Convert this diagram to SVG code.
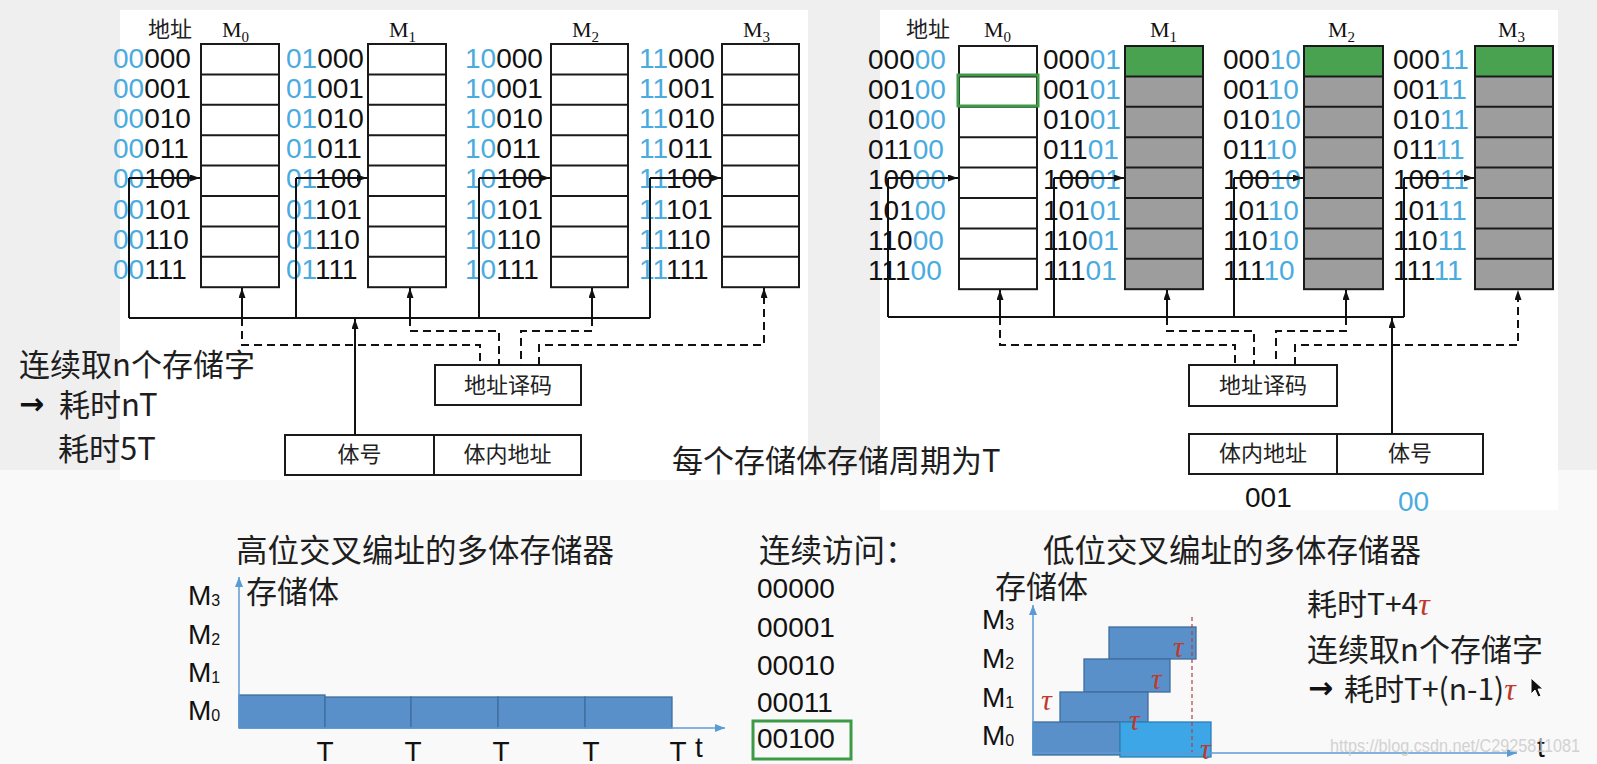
<svg xmlns="http://www.w3.org/2000/svg" width="1597" height="764" viewBox="0 0 1597 764">
<style>
.cell{fill:#fff;stroke:#1a1a1a;stroke-width:2}
.gray{fill:#9d9d9d;stroke:none}
.grn{fill:#48a24f;stroke:none}
.ol{fill:none;stroke:#1a1a1a;stroke-width:2}
.addr{font-family:"Liberation Sans",Arial,sans-serif;font-size:28px;fill:#111}
.hdr{font-family:"Noto Sans CJK SC",sans-serif;font-size:22px;fill:#222}
.ml{font-family:"Liberation Serif",serif;font-size:22px;fill:#111}
.sub{font-size:15px}
.cjk{font-family:"Noto Sans CJK SC",sans-serif;font-size:31px;fill:#1e1e1e}
.box{fill:#fff;stroke:#1a1a1a;stroke-width:2}
.bt{font-family:"Noto Sans CJK SC",sans-serif;font-size:22px;fill:#222;text-anchor:middle}
.w{fill:none;stroke:#111;stroke-width:2}
.d{fill:none;stroke:#111;stroke-width:2;stroke-dasharray:8 5}
.num{font-family:"Liberation Sans",Arial,sans-serif;font-size:28px;fill:#111}
.ax{fill:none;stroke:#5b9bd5;stroke-width:1.5}
.bar{fill:#5a90c9;stroke:#3f6d9e;stroke-width:1.3}
.lbar{fill:#3ca6e6;stroke:#2f7fb5;stroke-width:1.3}
.mk{font-family:"Liberation Sans",Arial,sans-serif;font-size:28px;fill:#111}
.ms{font-size:16px}
.tau{font-family:"Liberation Serif",serif;font-style:italic;font-size:30px;fill:#c0392b}
.arr{font-family:"DejaVu Sans",sans-serif;font-weight:bold;font-size:30px;fill:#111}
.b{fill:#4aabdf}
</style>
<defs>
<marker id="ah" viewBox="0 0 10 7" refX="10" refY="3.5" markerWidth="10" markerHeight="7" markerUnits="userSpaceOnUse" orient="auto"><path d="M0,0 L10,3.5 L0,7 z" fill="#111"/></marker>
<marker id="ahb" viewBox="0 0 10 8" refX="10" refY="4" markerWidth="10" markerHeight="8" markerUnits="userSpaceOnUse" orient="auto"><path d="M0,0 L10,4 L0,8 z" fill="#5b9bd5"/></marker>
</defs>

<!-- background -->
<rect width="1597" height="764" fill="#f9f9f9"/>
<rect x="0" y="0" width="1597" height="470" fill="#efefef"/>
<rect x="120" y="10" width="688" height="470" fill="#fff"/>
<rect x="880" y="10" width="678" height="500" fill="#fff"/>

<!-- ===== Left (high-order interleave) ===== -->
<text class="hdr" x="148" y="37">地址</text>

<g id="L-M0">
<text class="ml" x="222" y="37">M<tspan class="sub" dy="5">0</tspan></text>
<rect class="cell" x="201" y="44" width="78" height="243.2"/>
<path class="ol" d="M201 74.4h78M201 104.8h78M201 135.2h78M201 165.6h78M201 196h78M201 226.4h78M201 256.8h78"/>
<text class="addr" x="113" y="67.5"><tspan class="b">00</tspan>000</text>
<text class="addr" x="113" y="97.7"><tspan class="b">00</tspan>001</text>
<text class="addr" x="113" y="127.9"><tspan class="b">00</tspan>010</text>
<text class="addr" x="113" y="158.1"><tspan class="b">00</tspan>011</text>
<text class="addr" x="113" y="188.3"><tspan class="b">00</tspan>100</text>
<text class="addr" x="113" y="218.5"><tspan class="b">00</tspan>101</text>
<text class="addr" x="113" y="248.7"><tspan class="b">00</tspan>110</text>
<text class="addr" x="113" y="278.9"><tspan class="b">00</tspan>111</text>
</g>

<g id="L-M1">
<text class="ml" x="389" y="37">M<tspan class="sub" dy="5">1</tspan></text>
<rect class="cell" x="368" y="44" width="78" height="243.2"/>
<path class="ol" d="M368 74.4h78M368 104.8h78M368 135.2h78M368 165.6h78M368 196h78M368 226.4h78M368 256.8h78"/>
<text class="addr" x="286" y="67.5"><tspan class="b">01</tspan>000</text>
<text class="addr" x="286" y="97.7"><tspan class="b">01</tspan>001</text>
<text class="addr" x="286" y="127.9"><tspan class="b">01</tspan>010</text>
<text class="addr" x="286" y="158.1"><tspan class="b">01</tspan>011</text>
<text class="addr" x="286" y="188.3"><tspan class="b">01</tspan>100</text>
<text class="addr" x="286" y="218.5"><tspan class="b">01</tspan>101</text>
<text class="addr" x="286" y="248.7"><tspan class="b">01</tspan>110</text>
<text class="addr" x="286" y="278.9"><tspan class="b">01</tspan>111</text>
</g>

<g id="L-M2">
<text class="ml" x="572" y="37">M<tspan class="sub" dy="5">2</tspan></text>
<rect class="cell" x="551" y="44" width="77" height="243.2"/>
<path class="ol" d="M551 74.4h77M551 104.8h77M551 135.2h77M551 165.6h77M551 196h77M551 226.4h77M551 256.8h77"/>
<text class="addr" x="465" y="67.5"><tspan class="b">10</tspan>000</text>
<text class="addr" x="465" y="97.7"><tspan class="b">10</tspan>001</text>
<text class="addr" x="465" y="127.9"><tspan class="b">10</tspan>010</text>
<text class="addr" x="465" y="158.1"><tspan class="b">10</tspan>011</text>
<text class="addr" x="465" y="188.3"><tspan class="b">10</tspan>100</text>
<text class="addr" x="465" y="218.5"><tspan class="b">10</tspan>101</text>
<text class="addr" x="465" y="248.7"><tspan class="b">10</tspan>110</text>
<text class="addr" x="465" y="278.9"><tspan class="b">10</tspan>111</text>
</g>

<g id="L-M3">
<text class="ml" x="743" y="37">M<tspan class="sub" dy="5">3</tspan></text>
<rect class="cell" x="722" y="44" width="77" height="243.2"/>
<path class="ol" d="M722 74.4h77M722 104.8h77M722 135.2h77M722 165.6h77M722 196h77M722 226.4h77M722 256.8h77"/>
<text class="addr" x="639" y="67.5"><tspan class="b">11</tspan>000</text>
<text class="addr" x="639" y="97.7"><tspan class="b">11</tspan>001</text>
<text class="addr" x="639" y="127.9"><tspan class="b">11</tspan>010</text>
<text class="addr" x="639" y="158.1"><tspan class="b">11</tspan>011</text>
<text class="addr" x="639" y="188.3"><tspan class="b">11</tspan>100</text>
<text class="addr" x="639" y="218.5"><tspan class="b">11</tspan>101</text>
<text class="addr" x="639" y="248.7"><tspan class="b">11</tspan>110</text>
<text class="addr" x="639" y="278.9"><tspan class="b">11</tspan>111</text>
</g>

<g id="L-decoder">
<rect class="box" x="435" y="365" width="146" height="40"/>
<text class="bt" x="508" y="393">地址译码</text>
</g>
<g id="L-register">
<rect class="box" x="285" y="435" width="149" height="40"/>
<rect class="box" x="434" y="435" width="147" height="40"/>
<text class="bt" x="359.5" y="462">体号</text>
<text class="bt" x="507.5" y="462">体内地址</text>
</g>

<!-- ===== Right (low-order interleave) ===== -->
<text class="hdr" x="906" y="37">地址</text>

<g id="R-M0">
<text class="ml" x="984" y="37">M<tspan class="sub" dy="5">0</tspan></text>
<rect class="cell" x="959" y="46" width="78" height="243.2"/>
<path class="ol" d="M959 76.4h78M959 106.8h78M959 137.2h78M959 167.6h78M959 198h78M959 228.4h78M959 258.8h78"/>
<rect x="958" y="75" width="80" height="31" fill="none" stroke="#3d9a46" stroke-width="3"/>
<text class="addr" x="868" y="68.5">000<tspan class="b">00</tspan></text>
<text class="addr" x="868" y="98.7">001<tspan class="b">00</tspan></text>
<text class="addr" x="868" y="128.9">010<tspan class="b">00</tspan></text>
<text class="addr" x="868" y="159.1">011<tspan class="b">00</tspan></text>
<text class="addr" x="868" y="189.3">100<tspan class="b">00</tspan></text>
<text class="addr" x="868" y="219.5">101<tspan class="b">00</tspan></text>
<text class="addr" x="868" y="249.7">110<tspan class="b">00</tspan></text>
<text class="addr" x="868" y="279.9">111<tspan class="b">00</tspan></text>
</g>

<g id="R-M1">
<text class="ml" x="1150" y="37">M<tspan class="sub" dy="5">1</tspan></text>
<rect class="gray" x="1125" y="46" width="78" height="243.2"/>
<rect class="grn" x="1125" y="46" width="78" height="30.4"/>
<rect class="ol" x="1125" y="46" width="78" height="243.2"/>
<path class="ol" d="M1125 76.4h78M1125 106.8h78M1125 137.2h78M1125 167.6h78M1125 198h78M1125 228.4h78M1125 258.8h78"/>
<text class="addr" x="1043" y="68.5">000<tspan class="b">01</tspan></text>
<text class="addr" x="1043" y="98.7">001<tspan class="b">01</tspan></text>
<text class="addr" x="1043" y="128.9">010<tspan class="b">01</tspan></text>
<text class="addr" x="1043" y="159.1">011<tspan class="b">01</tspan></text>
<text class="addr" x="1043" y="189.3">100<tspan class="b">01</tspan></text>
<text class="addr" x="1043" y="219.5">101<tspan class="b">01</tspan></text>
<text class="addr" x="1043" y="249.7">110<tspan class="b">01</tspan></text>
<text class="addr" x="1043" y="279.9">111<tspan class="b">01</tspan></text>
</g>

<g id="R-M2">
<text class="ml" x="1328" y="37">M<tspan class="sub" dy="5">2</tspan></text>
<rect class="gray" x="1304" y="46" width="79" height="243.2"/>
<rect class="grn" x="1304" y="46" width="79" height="30.4"/>
<rect class="ol" x="1304" y="46" width="79" height="243.2"/>
<path class="ol" d="M1304 76.4h79M1304 106.8h79M1304 137.2h79M1304 167.6h79M1304 198h79M1304 228.4h79M1304 258.8h79"/>
<text class="addr" x="1223" y="68.5">000<tspan class="b">10</tspan></text>
<text class="addr" x="1223" y="98.7">001<tspan class="b">10</tspan></text>
<text class="addr" x="1223" y="128.9">010<tspan class="b">10</tspan></text>
<text class="addr" x="1223" y="159.1">011<tspan class="b">10</tspan></text>
<text class="addr" x="1223" y="189.3">100<tspan class="b">10</tspan></text>
<text class="addr" x="1223" y="219.5">101<tspan class="b">10</tspan></text>
<text class="addr" x="1223" y="249.7">110<tspan class="b">10</tspan></text>
<text class="addr" x="1223" y="279.9">111<tspan class="b">10</tspan></text>
</g>

<g id="R-M3">
<text class="ml" x="1498" y="37">M<tspan class="sub" dy="5">3</tspan></text>
<rect class="gray" x="1475" y="46" width="78" height="243.2"/>
<rect class="grn" x="1475" y="46" width="78" height="30.4"/>
<rect class="ol" x="1475" y="46" width="78" height="243.2"/>
<path class="ol" d="M1475 76.4h78M1475 106.8h78M1475 137.2h78M1475 167.6h78M1475 198h78M1475 228.4h78M1475 258.8h78"/>
<text class="addr" x="1393" y="68.5">000<tspan class="b">11</tspan></text>
<text class="addr" x="1393" y="98.7">001<tspan class="b">11</tspan></text>
<text class="addr" x="1393" y="128.9">010<tspan class="b">11</tspan></text>
<text class="addr" x="1393" y="159.1">011<tspan class="b">11</tspan></text>
<text class="addr" x="1393" y="189.3">100<tspan class="b">11</tspan></text>
<text class="addr" x="1393" y="219.5">101<tspan class="b">11</tspan></text>
<text class="addr" x="1393" y="249.7">110<tspan class="b">11</tspan></text>
<text class="addr" x="1393" y="279.9">111<tspan class="b">11</tspan></text>
</g>

<g id="R-decoder">
<rect class="box" x="1189" y="365" width="148" height="41"/>
<text class="bt" x="1263" y="393">地址译码</text>
</g>
<g id="R-register">
<rect class="box" x="1189" y="434" width="148" height="40"/>
<rect class="box" x="1337" y="434" width="146" height="40"/>
<text class="bt" x="1263" y="461">体内地址</text>
<text class="bt" x="1410" y="461">体号</text>
<text class="num" x="1245" y="507">001</text>
<text class="num" x="1398" y="511" fill="#4aabdf" style="fill:#4aabdf">00</text>
</g>

<!-- ===== Connectors ===== -->
<g id="connectors">
<path class="w" d="M129 178V318M296 178V318M479 178V318M650 178V318M129 318H650"/>
<path class="w" marker-end="url(#ah)" d="M129 178H200"/>
<path class="w" marker-end="url(#ah)" d="M296 178H367"/>
<path class="w" marker-end="url(#ah)" d="M479 178H550"/>
<path class="w" marker-end="url(#ah)" d="M650 178H721"/>
<path class="w" marker-end="url(#ah)" d="M242 318V288"/>
<path class="w" marker-end="url(#ah)" d="M410 318V288"/>
<path class="w" marker-end="url(#ah)" d="M592 318V288"/>
<path class="d" d="M242 318V345H480V365"/>
<path class="d" d="M410 318V331H499V365"/>
<path class="d" d="M592 318V331H521V365"/>
<path class="d" marker-end="url(#ah)" d="M539 365V345H764V288"/>
<path class="w" marker-end="url(#ah)" d="M355 435V319"/>
<path class="w" d="M888 178V317M1054 178V317M1234 178V317M1404 178V317M888 317H1404"/>
<path class="w" marker-end="url(#ah)" d="M888 178H958"/>
<path class="w" marker-end="url(#ah)" d="M1054 178H1124"/>
<path class="w" marker-end="url(#ah)" d="M1234 178H1303"/>
<path class="w" marker-end="url(#ah)" d="M1404 178H1474"/>
<path class="w" marker-end="url(#ah)" d="M1000 317V290"/>
<path class="w" marker-end="url(#ah)" d="M1167 317V290"/>
<path class="w" marker-end="url(#ah)" d="M1346 317V290"/>
<path class="d" d="M1000 317V345H1235V365"/>
<path class="d" d="M1167 317V331H1254V365"/>
<path class="d" d="M1346 317V331H1276V365"/>
<path class="d" marker-end="url(#ah)" d="M1295 365V345H1518V290"/>
<path class="w" marker-end="url(#ah)" d="M1392 434V318"/>
</g>

<!-- ===== Side texts ===== -->
<g id="left-notes">
<text class="cjk" x="19" y="376">连续取n个存储字</text>
<text class="arr" x="19" y="414">→</text>
<text class="cjk" x="59" y="416">耗时nT</text>
<text class="cjk" x="58" y="460">耗时5T</text>
</g>
<text id="period-note" class="cjk" x="672" y="472">每个存储体存储周期为T</text>

<!-- ===== Lower-left chart ===== -->
<g id="high-chart">
<text class="cjk" x="236" y="562" style="font-size:31.5px">高位交叉编址的多体存储器</text>
<text class="cjk" x="246" y="603">存储体</text>
<text class="mk" x="188" y="605">M<tspan class="ms" dy="1">3</tspan></text>
<text class="mk" x="188" y="644">M<tspan class="ms" dy="1">2</tspan></text>
<text class="mk" x="188" y="682">M<tspan class="ms" dy="1">1</tspan></text>
<text class="mk" x="188" y="720">M<tspan class="ms" dy="1">0</tspan></text>
<rect class="bar" x="239" y="695" width="86" height="33"/>
<rect class="bar" x="325" y="697" width="86" height="31"/>
<rect class="bar" x="411" y="697" width="87" height="31"/>
<rect class="bar" x="498" y="697" width="87" height="31"/>
<rect class="bar" x="585" y="697" width="87" height="31"/>
<path class="ax" marker-end="url(#ahb)" d="M239 728V577"/>
<path class="ax" marker-end="url(#ahb)" d="M239 728H725"/>
<g class="num" text-anchor="middle">
<text x="325" y="761">T</text>
<text x="413" y="761">T</text>
<text x="501" y="761">T</text>
<text x="591" y="761">T</text>
<text x="678" y="761">T</text>
</g>
<text class="num" x="695" y="757">t</text>
</g>

<!-- ===== Sequence list ===== -->
<g id="sequence">
<text class="cjk" x="759" y="562" style="font-size:31.5px">连续访问：</text>
<text class="num" x="757" y="598">00000</text>
<text class="num" x="757" y="637">00001</text>
<text class="num" x="757" y="675">00010</text>
<text class="num" x="757" y="712">00011</text>
<text class="num" x="757" y="748">00100</text>
<rect x="753" y="721" width="98" height="38" fill="none" stroke="#3d9a46" stroke-width="3"/>
</g>

<!-- ===== Lower-right chart ===== -->
<g id="low-chart">
<text class="cjk" x="1043" y="562" style="font-size:31.5px">低位交叉编址的多体存储器</text>
<text class="cjk" x="995" y="598">存储体</text>
<text class="mk" x="982" y="629">M<tspan class="ms" dy="1">3</tspan></text>
<text class="mk" x="982" y="668">M<tspan class="ms" dy="1">2</tspan></text>
<text class="mk" x="982" y="707">M<tspan class="ms" dy="1">1</tspan></text>
<text class="mk" x="982" y="745">M<tspan class="ms" dy="1">0</tspan></text>
<rect class="bar" x="1109" y="627" width="87" height="32"/>
<rect class="bar" x="1084" y="659" width="86" height="33"/>
<rect class="bar" x="1060" y="692" width="88" height="30"/>
<rect class="bar" x="1033" y="722" width="87" height="33"/>
<rect class="lbar" x="1120" y="722" width="91" height="35"/>
<path d="M1192 617V753" fill="none" stroke="#b0413e" stroke-width="1.2" stroke-dasharray="4 3"/>
<path class="ax" marker-end="url(#ahb)" d="M1033 755V605"/>
<path class="ax" marker-end="url(#ahb)" d="M1033 753H1517"/>
<text class="tau" x="1041" y="710">τ</text>
<text class="tau" x="1129" y="730">τ</text>
<text class="tau" x="1151" y="689">τ</text>
<text class="tau" x="1173" y="657">τ</text>
<text class="tau" x="1200" y="759">τ</text>
<text class="num" x="1537" y="757">t</text>
</g>

<g id="right-notes">
<text class="cjk" x="1307" y="615" style="font-size:30px">耗时T+4<tspan class="tau" style="font-size:32px">τ</tspan></text>
<text class="cjk" x="1307" y="661">连续取n个存储字</text>
<text class="arr" x="1308" y="698">→</text>
<text class="cjk" x="1344" y="700" style="font-size:30px">耗时T+(n-1)<tspan class="tau" style="font-size:32px">τ</tspan></text>
<polygon points="1531,678 1531,694 1535,690 1538,697 1541,696 1538,689 1543,689" fill="#111" stroke="#fff" stroke-width="1"/>
<text x="1330" y="752" font-family="Liberation Sans, Arial, sans-serif" font-size="18" fill="#cccccc" opacity="0.85" textLength="250" lengthAdjust="spacingAndGlyphs">https://blog.csdn.net/C2925811081</text>
</g>
</svg>
